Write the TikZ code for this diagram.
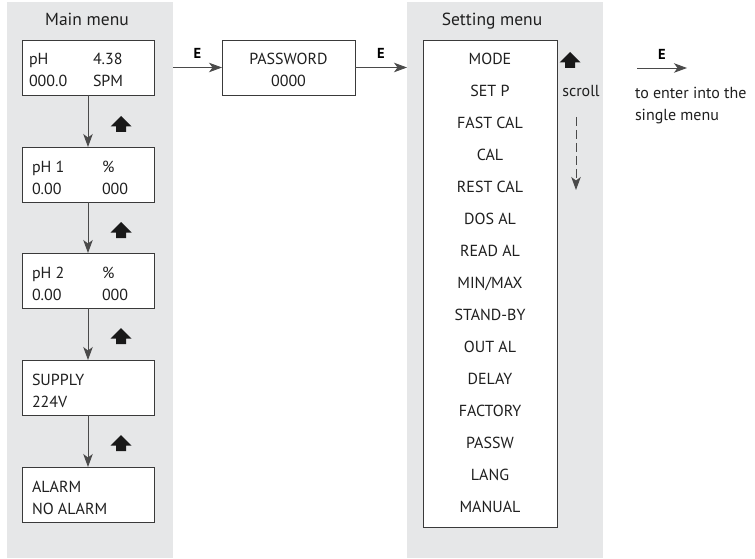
\documentclass[tikz,border=0pt]{standalone}
\usepackage{fontspec}
\setmainfont{PT Sans}
\usetikzlibrary{arrows.meta}
\definecolor{panelgray}{HTML}{E6E7E8}
\definecolor{framegray}{HTML}{3A3A3A}
\definecolor{linegray}{HTML}{4A4A4A}
\begin{document}
\begin{tikzpicture}[x=1pt,y=-1pt,
  panel/.style={fill=panelgray, draw=none, anchor=north west, inner sep=0pt, outer sep=0pt},
  box/.style={draw=framegray, line width=0.9pt, fill=white, anchor=north west, inner sep=0pt, outer sep=0pt, minimum width=132pt, minimum height=55pt},
  txt/.style={inner sep=0pt, outer sep=0pt, font=\fontsize{16}{19}\selectfont, text=black!88},
  titletxt/.style={txt, font=\fontsize{17.5}{20}\selectfont},
  elabel/.style={inner sep=0pt, font=\fontsize{14.5}{16}\selectfont\bfseries, anchor=base},
  conn/.style={draw=linegray, line width=0.9pt, -{Stealth[length=13pt,width=9.5pt,inset=3.5pt]}},
  dconn/.style={conn, dash pattern=on 9pt off 4pt},
  uparrow/.pic={\fill[black!90] (0,0) -- (10.5,10.5) -- (5,10.5) -- (5,16) -- (-5,16) -- (-5,10.5) -- (-10.5,10.5) -- cycle;}
]
\useasboundingbox (0,0) rectangle (755,559);
% panels
\node[panel, minimum width=166pt, minimum height=556pt] (mainpanel) at (7,2) {};
\node[panel, minimum width=196pt, minimum height=556pt] (setpanel) at (407,2) {};
\node[titletxt, anchor=base] (maintitle) at (87,26) {Main menu};
\node[titletxt, anchor=base] (settitle) at (492,26) {Setting menu};
% main menu boxes
\node[box] (b1) at (22,40) {};
\node[box] (b2) at (22,147) {};
\node[box] (b3) at (22,253) {};
\node[box] (b4) at (22,360) {};
\node[box] (b5) at (22,467) {};
\node[txt, anchor=base west] (b1a) at (29,65) {pH};
\node[txt, anchor=base west] (b1b) at (93,65) {4.38};
\node[txt, anchor=base west] (b1c) at (29,87) {000.0};
\node[txt, anchor=base west] (b1d) at (93,87) {SPM};
\node[txt, anchor=base west] (b2a) at (32,172) {pH 1};
\node[txt, anchor=base west] (b2b) at (102,172) {\%};
\node[txt, anchor=base west] (b2c) at (32,194) {0.00};
\node[txt, anchor=base west] (b2d) at (102,194) {000};
\node[txt, anchor=base west] (b3a) at (32,278) {pH 2};
\node[txt, anchor=base west] (b3b) at (102,278) {\%};
\node[txt, anchor=base west] (b3c) at (32,300) {0.00};
\node[txt, anchor=base west] (b3d) at (102,300) {000};
\node[txt, anchor=base west] (b4a) at (32,385) {SUPPLY};
\node[txt, anchor=base west] (b4c) at (32,407) {224V};
\node[txt, anchor=base west] (b5a) at (32,492) {ALARM};
\node[txt, anchor=base west] (b5c) at (32,514) {NO ALARM};
\draw[conn] (b1.south) -- (b2.north);
\draw[conn] (b2.south) -- (b3.north);
\draw[conn] (b3.south) -- (b4.north);
\draw[conn] (b4.south) -- (b5.north);
\pic at (121,116) {uparrow};
\pic at (121,222) {uparrow};
\pic at (121,328) {uparrow};
\pic at (121,435) {uparrow};
% password
\node[box, minimum width=133pt] (pw) at (222,40) {};
\node[txt, anchor=base] (pwa) at (288.5,65) {PASSWORD};
\node[txt, anchor=base] (pwb) at (288.5,87) {0000};
\draw[conn] (mainpanel.east |- pw.west) -- node[elabel, above=8.5pt] (e1) {E} (pw.west);
\draw[conn] (pw.east) -- node[elabel, above=8.5pt] (e2) {E} (setpanel.west |- pw.east);
% setting menu
\node[box, minimum width=134pt, minimum height=487pt] (sm) at (423,40) {};
\foreach \t [count=\i from 0] in {MODE,SET P,FAST CAL,CAL,REST CAL,DOS AL,READ AL,MIN/MAX,STAND-BY,OUT AL,DELAY,FACTORY,PASSW,LANG,MANUAL}
  \node[txt, anchor=base] (it\i) at (490,{65+31.93*\i}) {\t};
\pic at (570,52) {uparrow};
\node[txt, anchor=base] (scroll) at (581,97) {scroll};
\coordinate (sc1) at (576,117);
\coordinate (sc2) at (576,190);
\draw[dconn] (sc1) -- (sc2);
% legend
\coordinate (l1) at (637,68);
\coordinate (l2) at (687,68);
\draw[conn] (l1) -- node[elabel, above=8.5pt] (e3) {E} (l2);
\node[txt, anchor=base west] (leg1) at (635,99) {to enter into the};
\node[txt, anchor=base west] (leg2) at (635,121) {single menu};
\end{tikzpicture}
\end{document}
